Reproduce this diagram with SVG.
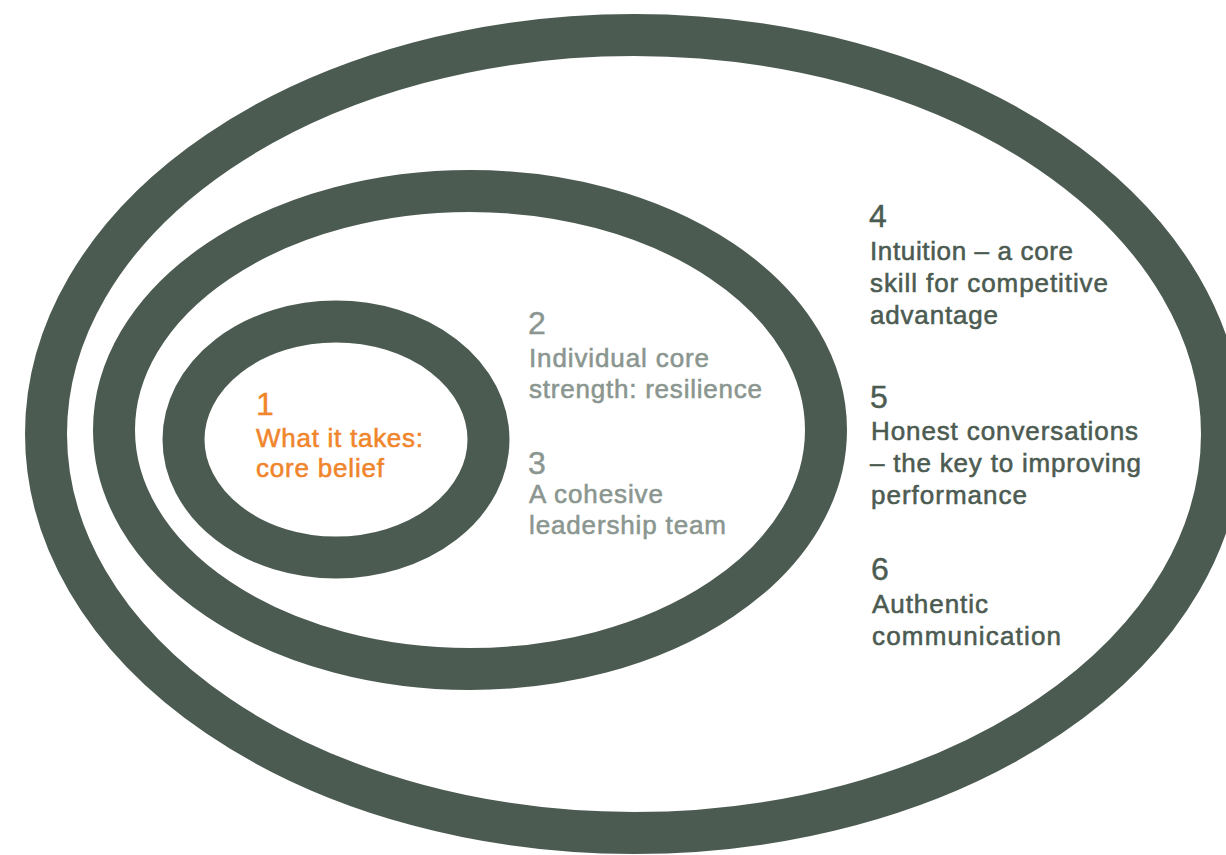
<svg xmlns="http://www.w3.org/2000/svg" width="1226" height="855" viewBox="0 0 1226 855">
  <style>
    .ring { fill: none; stroke: #4c5b51; stroke-width: 42; }
    text { font-family: "Liberation Sans", Arial, sans-serif; font-size: 26px; stroke-width: 0.55px; }
    .core { fill: #f0852b; stroke: #f0852b; }
    .mid { fill: #8a968f; stroke: #8a968f; }
    .outer { fill: #4c5b51; stroke: #4c5b51; }
    text.num { font-size: 32px; stroke-width: 0.4px; }
  </style>
  <rect width="1226" height="855" fill="#ffffff"/>

  <!-- concentric rings -->
  <g id="ring-outer"><ellipse class="ring" cx="634" cy="434" rx="588" ry="399"/></g>
  <g id="ring-middle"><ellipse class="ring" cx="470" cy="430" rx="356" ry="239"/></g>
  <g id="ring-inner"><ellipse class="ring" cx="336" cy="439.5" rx="152.5" ry="118"/></g>

  <!-- labels -->
  <g id="item-1" class="core">
    <text class="num" x="256" y="415">1</text>
    <text x="256" y="447" textLength="167" lengthAdjust="spacing">What it takes:</text>
    <text x="256" y="477" textLength="128" lengthAdjust="spacing">core belief</text>
  </g>
  <g id="item-2" class="mid">
    <text class="num" x="528" y="334">2</text>
    <text x="529" y="367" textLength="180" lengthAdjust="spacing">Individual core</text>
    <text x="529" y="398" textLength="233" lengthAdjust="spacing">strength: resilience</text>
  </g>
  <g id="item-3" class="mid">
    <text class="num" x="528" y="474">3</text>
    <text x="529" y="503" textLength="134" lengthAdjust="spacing">A cohesive</text>
    <text x="529" y="534" textLength="197" lengthAdjust="spacing">leadership team</text>
  </g>
  <g id="item-4" class="outer">
    <text class="num" x="869" y="227">4</text>
    <text x="870" y="260" textLength="203" lengthAdjust="spacing">Intuition – a core</text>
    <text x="870" y="292" textLength="238" lengthAdjust="spacing">skill for competitive</text>
    <text x="870" y="324" textLength="128" lengthAdjust="spacing">advantage</text>
  </g>
  <g id="item-5" class="outer">
    <text class="num" x="870" y="408">5</text>
    <text x="871" y="440" textLength="267" lengthAdjust="spacing">Honest conversations</text>
    <text x="870" y="472" textLength="271" lengthAdjust="spacing">– the key to improving</text>
    <text x="871" y="504" textLength="156" lengthAdjust="spacing">performance</text>
  </g>
  <g id="item-6" class="outer">
    <text class="num" x="871" y="580">6</text>
    <text x="872" y="613" textLength="116" lengthAdjust="spacing">Authentic</text>
    <text x="872" y="645" textLength="189" lengthAdjust="spacing">communication</text>
  </g>
</svg>
